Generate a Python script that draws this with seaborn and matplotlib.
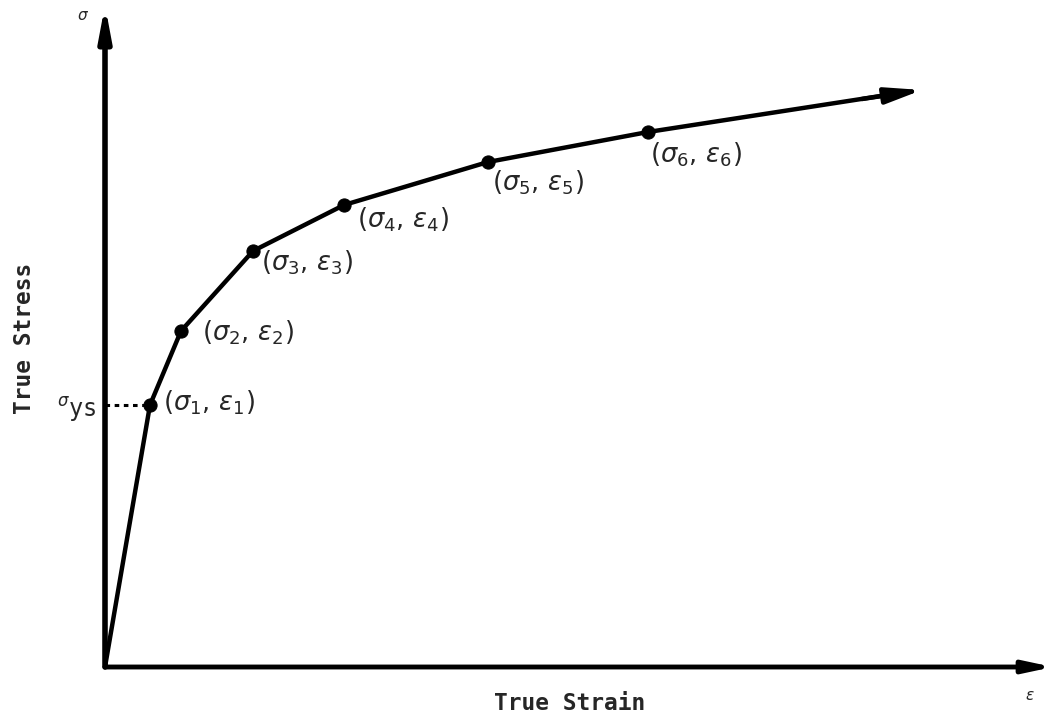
import matplotlib
matplotlib.use("Agg")
import matplotlib.pyplot as plt
import seaborn as sns
import pandas as pd

# Piecewise-linear true stress / true strain curve (arbitrary units)
strain = [0.0, 0.45, 0.76, 1.48, 2.39, 3.83, 5.43]
stress = [0.0, 2.62, 3.36, 4.16, 4.62, 5.05, 5.35]
point_labels = [r"$(\sigma_1,\,\epsilon_1)$", r"$(\sigma_2,\,\epsilon_2)$",
                r"$(\sigma_3,\,\epsilon_3)$", r"$(\sigma_4,\,\epsilon_4)$",
                r"$(\sigma_5,\,\epsilon_5)$", r"$(\sigma_6,\,\epsilon_6)$"]
strain_end = 8.17
stress_end = 5.77
sigma_ys = stress[1]

sns.set_theme(style="white")
plt.rcParams["font.family"] = ["DejaVu Sans Mono", "DejaVu Sans"]
plt.rcParams["mathtext.fontset"] = "dejavusans"

fig = plt.figure(figsize=(10.55, 7.21), dpi=100)
ax = fig.add_axes([0, 0, 1, 1])
ax.set_xlim(-1.05, 9.50)
ax.set_ylim(-0.54, 6.67)
ax.set_axis_off()

# Curve through the tabulated points, continuing to the arrowhead
curve = pd.DataFrame({"strain": strain + [strain_end - 0.35],
                      "stress": stress + [stress_end - 0.05]})
sns.lineplot(data=curve, x="strain", y="stress", color="black", lw=3.2,
             sort=False, ax=ax, legend=False)
ax.annotate("", xy=(strain_end, stress_end), xytext=(strain_end - 0.6, stress_end - 0.09),
            arrowprops=dict(arrowstyle="-|>,head_length=1.8,head_width=0.4",
                            color="black", lw=3.2, shrinkA=0, shrinkB=0))

pts = pd.DataFrame({"strain": strain[1:], "stress": stress[1:]})
sns.scatterplot(data=pts, x="strain", y="stress", color="black", s=90,
                edgecolor="black", zorder=5, ax=ax, legend=False)

# Point labels
offsets = [(0.13, 0.02), (0.21, -0.02), (0.08, -0.12), (0.13, -0.15),
           (0.04, -0.21), (0.02, -0.23)]
for x, y, lab, (dx, dy) in zip(strain[1:], stress[1:], point_labels, offsets):
    ax.text(x + dx, y + dy, lab, fontsize=18.5, va="center", ha="left")

# Axes drawn as arrows from the origin
ax.annotate("", xy=(0, 6.62), xytext=(0, 0),
            arrowprops=dict(arrowstyle="-|>,head_length=1.6,head_width=0.3",
                            color="black", lw=4, shrinkA=0, shrinkB=0))
ax.annotate("", xy=(9.48, 0), xytext=(0, 0),
            arrowprops=dict(arrowstyle="-|>,head_length=1.4,head_width=0.3",
                            color="black", lw=3.5, shrinkA=0, shrinkB=0))

# Yield stress marker
ax.plot([0, strain[1]], [sigma_ys, sigma_ys], ls=(0, (1.5, 1.5)), color="black", lw=2.2)
ax.text(-0.08, sigma_ys - 0.05, r"$^{\sigma}$ys", fontsize=17, ha="right", va="center")

ax.text(-0.22, 6.52, r"$\sigma$", fontsize=11, ha="center", va="center")
ax.text(9.25, -0.28, r"$\epsilon$", fontsize=11, ha="center", va="center")

ax.text(4.65, -0.36, "True Strain", fontsize=16.5, fontweight="bold",
        ha="center", va="center")
ax.text(-0.80, 3.29, "True Stress", fontsize=16.5, fontweight="bold",
        ha="center", va="center", rotation=90)

fig.savefig("out.png", dpi=100, facecolor="white")
